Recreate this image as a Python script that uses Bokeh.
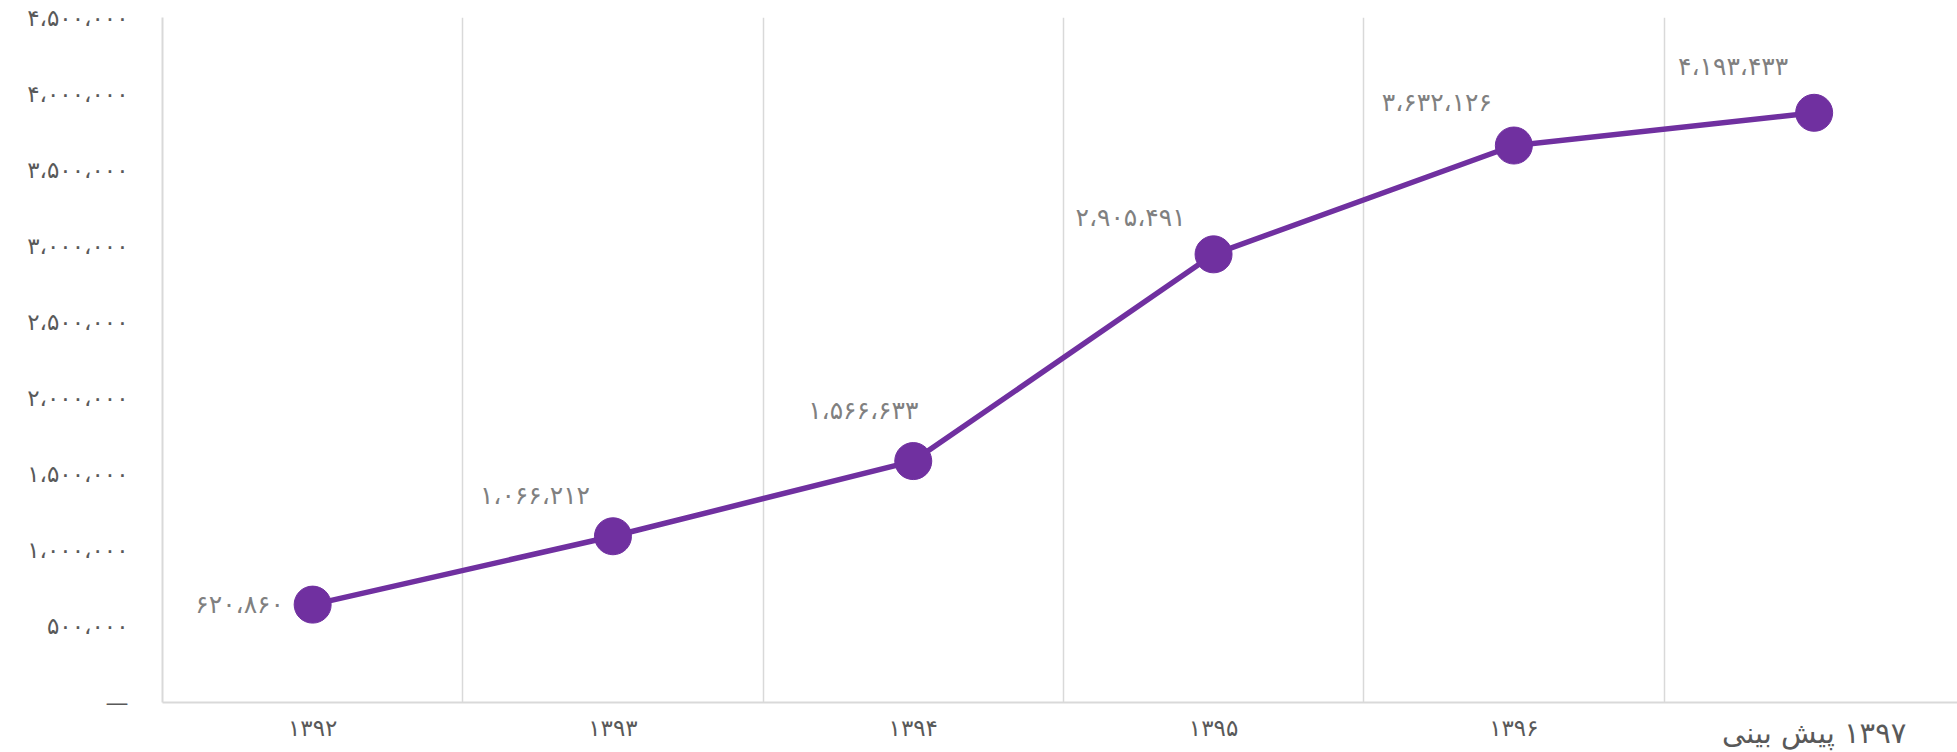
import numpy as np
from bokeh.plotting import figure
from bokeh.models import ColumnDataSource, FixedTicker, Range1d, Grid, LinearAxis
from bokeh.core.properties import value
from bokeh.embed import file_html
from bokeh.resources import INLINE

# ---- data ----
categories = ["۱۳۹۲", "۱۳۹۳", "۱۳۹۴", "۱۳۹۵", "۱۳۹۶", "\u200f۱۳۹۷ پیش بینی"]
values = [643000, 1092000, 1586000, 2944000, 3659000, 3874000]   # plotted positions
value_labels = ["۶۲۰،۸۶۰", "۱،۰۶۶،۲۱۲", "۱،۵۶۶،۶۳۳", "۲،۹۰۵،۴۹۱", "۳،۶۳۲،۱۲۶", "۴،۱۹۳،۴۳۳"]
y_ticks = [0, 500000, 1000000, 1500000, 2000000, 2500000, 3000000, 3500000, 4000000, 4500000]
y_tick_labels = ["—", "۵۰۰،۰۰۰", "۱،۰۰۰،۰۰۰", "۱،۵۰۰،۰۰۰", "۲،۰۰۰،۰۰۰", "۲،۵۰۰،۰۰۰",
                 "۳،۰۰۰،۰۰۰", "۳،۵۰۰،۰۰۰", "۴،۰۰۰،۰۰۰", "۴،۵۰۰،۰۰۰"]

# ---- styling ----
PURPLE = "#7030A0"
FONT = "DejaVu Sans"
label_dx = [-73, -78, -50, -83, -77, -81]
label_dy = [0, -41, -51, -37, -43, -46]

n = len(categories)
xs = np.arange(n) + 0.5
src = ColumnDataSource(dict(x=xs, y=values, lab=value_labels, dx=label_dx, dy=label_dy))

W, H = 1957, 752
left, top, bottom = 162, 17, 50
frame_w = W - left
cat_w = 300.3
p = figure(width=W, height=H, output_backend="svg", toolbar_location=None,
           x_range=Range1d(0, frame_w / cat_w), y_range=Range1d(0, 4500000),
           min_border_left=left, min_border_right=0, min_border_top=top,
           min_border_bottom=bottom)
p.outline_line_color = None
p.background_fill_color = "white"
p.border_fill_color = "white"

# grids
p.xgrid.visible = False
p.ygrid.visible = False
p.add_layout(Grid(dimension=0, ticker=FixedTicker(ticks=list(np.arange(1, n))),
                  grid_line_color="#d9d9d9", grid_line_width=1.5))

# x axis (regular years)
xa = p.xaxis[0]
xa.ticker = FixedTicker(ticks=list(xs))
overrides = {float(x): c for x, c in zip(xs, categories)}
overrides[float(xs[-1])] = ""
xa.major_label_overrides = overrides
xa.major_tick_line_color = None
xa.minor_tick_line_color = None
xa.axis_line_color = "#d9d9d9"
xa.axis_line_width = 2
xa.major_label_text_font = FONT
xa.major_label_text_font_size = "23px"
xa.major_label_text_color = "#595959"
xa.major_label_standoff = 6

# second x axis carrying the larger forecast label
xa2 = LinearAxis(ticker=FixedTicker(ticks=[float(xs[-1])]),
                 major_label_overrides={float(xs[-1]): categories[-1]})
xa2.axis_line_color = None
xa2.major_tick_line_color = None
xa2.minor_tick_line_color = None
xa2.major_label_text_font = FONT
xa2.major_label_text_font_size = "29px"
xa2.major_label_text_color = "#595959"
xa2.major_label_standoff = -34
p.add_layout(xa2, "below")

# y axis
ya = p.yaxis[0]
ya.ticker = FixedTicker(ticks=y_ticks)
ya.major_label_overrides = {t: l for t, l in zip(y_ticks, y_tick_labels)}
ya.major_tick_line_color = None
ya.minor_tick_line_color = None
ya.axis_line_color = "#d9d9d9"
ya.axis_line_width = 2
ya.major_label_text_font = FONT
ya.major_label_text_font_size = "23px"
ya.major_label_text_color = "#595959"
ya.major_label_standoff = 28

# line + markers
p.line("x", "y", source=src, line_color=PURPLE, line_width=5.5)
p.scatter("x", "y", source=src, size=37, fill_color=PURPLE, line_color=PURPLE)

# data labels
p.text("x", "y", text="lab", source=src, x_offset="dx", y_offset="dy",
       text_align="center", text_baseline="middle", text_color="#808080",
       text_font=value(FONT), text_font_size="25px")

open("out.html", "w").write(file_html(p, INLINE))
